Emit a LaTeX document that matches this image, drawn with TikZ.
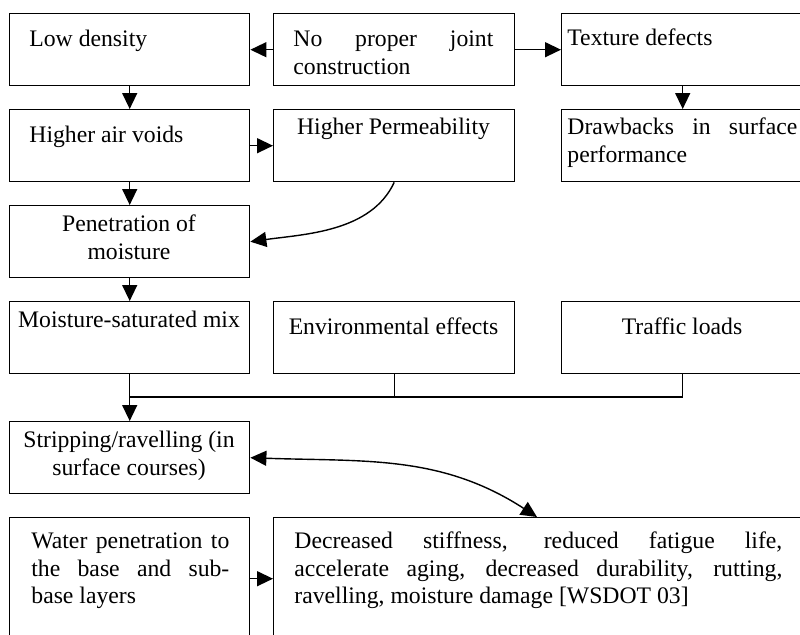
\documentclass[tikz,border=0pt]{standalone}
\usepackage{fontspec}
\setmainfont{Liberation Serif}
\usetikzlibrary{arrows.meta,calc}
\tikzset{
  box/.style={draw, line width=0.7pt, inner sep=0pt, anchor=north west, minimum height=36pt},
  txtl/.style={inner sep=0pt, anchor=north west, align=left, font=\fontsize{11.85}{13.8}\selectfont},
  txtc/.style={inner sep=0pt, anchor=north, align=center, font=\fontsize{11.85}{13.8}\selectfont},
  arr/.style={-{Triangle[length=8pt,width=7.5pt]}, line width=0.7pt},
  darr/.style={{Triangle[length=8pt,width=7.5pt]}-{Triangle[length=8pt,width=7.5pt]}, line width=0.7pt},
  conn/.style={line width=0.7pt}
}
\begin{document}
\begin{tikzpicture}[x=0.5pt,y=-0.5pt]
\useasboundingbox (0,0) rectangle (800,634);
\clip (0,0) rectangle (800,634);
\fill[white] (0,0) rectangle (800,634);
% boxes
\node[box, minimum width=120pt] (ld) at (9,13) {};
\node[box, minimum width=120.5pt] (np) at (273,13) {};
\node[box, minimum width=121pt] (td) at (561,13) {};
\node[box, minimum width=120pt] (hav) at (9,109) {};
\node[box, minimum width=120.5pt] (hp) at (273,109) {};
\node[box, minimum width=121pt] (db) at (561,109) {};
\node[box, minimum width=120pt] (pm) at (9,205) {};
\node[box, minimum width=120pt] (ms) at (9,301) {};
\node[box, minimum width=120.5pt] (ee) at (273,301) {};
\node[box, minimum width=121pt] (tl) at (561,301) {};
\node[box, minimum width=120pt] (sr) at (9,421) {};
\node[box, minimum width=120pt, minimum height=61pt] (wp) at (9,517) {};
\node[box, minimum width=265pt, minimum height=61pt] (dc) at (273,517) {};
% texts
\node[txtl] (t1) at (29,26.7) {\strut Low density};
\node[txtl] (t2) at (293,26.7) {\strut\makebox[100pt][s]{No proper joint}\\construction};
\node[txtl] (t3) at (567,25.7) {\strut Texture defects};
\node[txtl] (t4) at (29,122.7) {\strut Higher air voids};
\node[txtc] (t5) at (393.5,114.7) {\strut Higher Permeability};
\node[txtl] (t6) at (567,114.7) {\strut\makebox[115pt][s]{Drawbacks in surface}\\performance};
\node[txtc] (t7) at (129,211.7) {\strut Penetration of\\moisture};
\node[txtc] (t8) at (129,307.7) {\strut Moisture-saturated mix};
\node[txtc] (t9) at (393.5,314.7) {\strut Environmental effects};
\node[txtc] (t10) at (682,314.7) {\strut Traffic loads};
\node[txtc] (t11) at (129,427.7) {\strut Stripping/ravelling (in\\surface courses)};
\node[txtl] (t12) at (31,528.7) {\strut\makebox[99pt][s]{Water penetration to}\\\makebox[99pt][s]{the base and sub-}\\base layers};
\node[txtl] (t13) at (294,528.7) {\strut\makebox[244pt][s]{Decreased stiffness, reduced fatigue life,}\\\makebox[244pt][s]{accelerate aging, decreased durability, rutting,}\\ravelling, moisture damage [WSDOT 03]};
% connectors
\draw[arr] (np.west) -- (ld.east);
\draw[arr] (np.east) -- (td.west);
\draw[arr] (ld.south) -- (hav.north);
\draw[arr] (td.south) -- (db.north);
\draw[arr] (hav.east) -- (hp.west);
\draw[arr] (hav.south) -- (pm.north);
\draw[arr] (pm.south) -- (ms.north);
\draw[arr] (hp.south) to[out=-115,in=8,looseness=0.9] (pm.east);
\coordinate (j) at (129,397);
\draw[conn] (tl.south) |- (j);
\draw[conn] (ee.south) -- (ee.south |- j);
\draw[arr] (ms.south) -- (sr.north);
\draw[arr] (wp.east) -- (dc.west);
\draw[darr] (sr.east) to[out=-2,in=147] ($(dc.north west)+(264,0)$);
\end{tikzpicture}
\end{document}
